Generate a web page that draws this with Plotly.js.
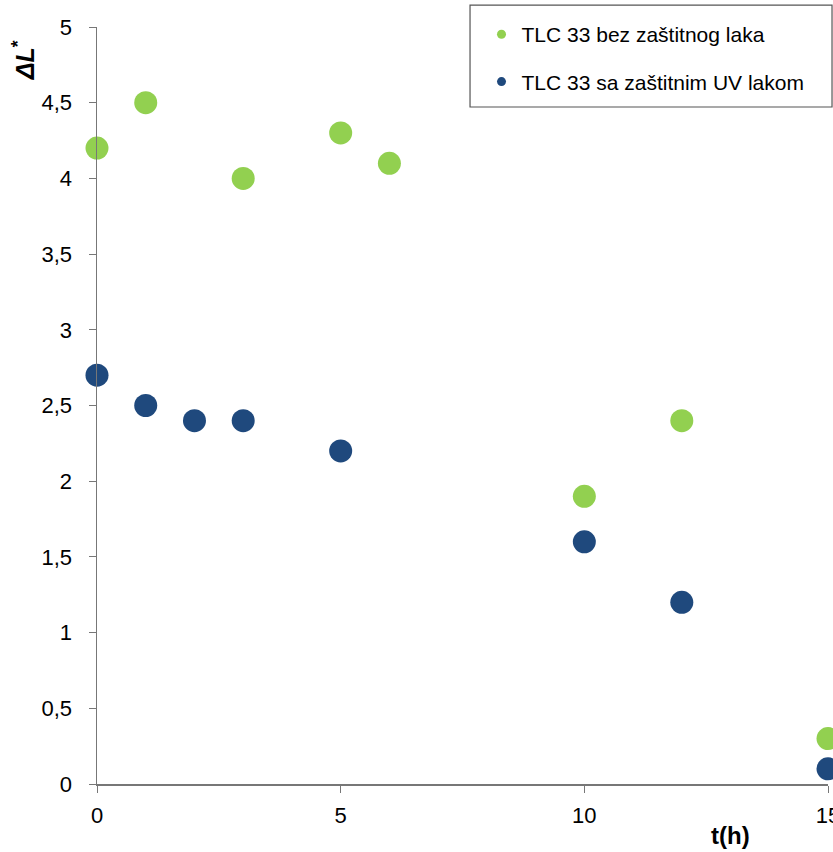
<!DOCTYPE html>
<html>
<head>
<meta charset="utf-8">
<script src="https://cdn.plot.ly/plotly-3.0.1.min.js"></script>
<style>html,body{margin:0;padding:0;background:#fff;}#chart{width:833px;height:852px;}</style>
</head>
<body>
<div id="chart"></div>
<script>
const greenX = [0, 1, 3, 5, 6, 10, 12, 15];
const greenY = [4.2, 4.5, 4.0, 4.3, 4.1, 1.9, 2.4, 0.3];
const blueX = [0, 1, 2, 3, 5, 10, 12, 15];
const blueY = [2.7, 2.5, 2.4, 2.4, 2.2, 1.6, 1.2, 0.1];
const seriesNames = ["TLC 33 bez zaštitnog laka", "TLC 33 sa zaštitnim UV lakom"];
const yTickVals = [0, 0.5, 1, 1.5, 2, 2.5, 3, 3.5, 4, 4.5, 5];
const yTickText = ["0", "0,5", "1", "1,5", "2", "2,5", "3", "3,5", "4", "4,5", "5"];
const xTickVals = [0, 5, 10, 15];
const xTickText = ["0", "5", "10", "15"];

const GREEN = "#92D050";
const BLUE = "#1F497D";
const FONT = "Liberation Sans, Arial, sans-serif";

const traces = [
  {x: greenX, y: greenY, type: "scatter", mode: "markers", showlegend: false, cliponaxis: false,
   marker: {color: GREEN, size: 23}},
  {x: blueX, y: blueY, type: "scatter", mode: "markers", showlegend: false, cliponaxis: false,
   marker: {color: BLUE, size: 23}},
  {x: [null], y: [null], type: "scatter", mode: "markers", name: seriesNames[0], legendgroup: "a",
   marker: {color: GREEN, size: 9}},
  {x: [null], y: [null], type: "scatter", mode: "markers", name: seriesNames[1], legendgroup: "b",
   marker: {color: BLUE, size: 9}}
];

const layout = {
  width: 833, height: 852,
  margin: {l: 97, r: 5, t: 27, b: 68},
  paper_bgcolor: "#fff", plot_bgcolor: "#fff",
  font: {family: FONT, size: 21, color: "#000"},
  showlegend: true,
  legend: {x: 0.526, y: 1.017, xanchor: "left", yanchor: "top", bgcolor: "rgba(0,0,0,0)",
           borderwidth: 0, font: {family: FONT, size: 21, color: "#000"},
           traceorder: "grouped", tracegroupgap: 17},
  xaxis: {range: [0, 15], tickvals: xTickVals, ticktext: xTickText, showgrid: false, zeroline: false,
          showline: true, linecolor: "#777", linewidth: 1.5, ticks: "outside", ticklen: 7, tickcolor: "#777",
          tickfont: {size: 22}, ticklabelstandoff: 4, ticklabeloverflow: "allow", fixedrange: true},
  yaxis: {range: [0, 5], tickvals: yTickVals, ticktext: yTickText, showgrid: false, zeroline: false,
          showline: true, linecolor: "#777", linewidth: 1.5, ticks: "outside", ticklen: 7, tickcolor: "#777",
          tickfont: {size: 22}, ticklabelstandoff: 12, fixedrange: true},
  shapes: [
    {type: "rect", xref: "paper", yref: "paper", x0: 0.5103, x1: 1.0055, y0: 0.8943, y1: 1.029,
     line: {color: "#555", width: 1.2}, fillcolor: "rgba(0,0,0,0)"}
  ],
  annotations: [
    {xref: "paper", yref: "paper", x: -0.1, y: 0.956, text: "<b><i>ΔL</i></b><b><sup>*</sup></b>",
     showarrow: false, textangle: -90, font: {family: FONT, size: 25, color: "#000"}, xanchor: "center", yanchor: "middle"},
    {xref: "paper", yref: "paper", x: 0.867, y: -0.0674, text: "<b>t(h)</b>",
     showarrow: false, font: {family: FONT, size: 24, color: "#000"}, xanchor: "center", yanchor: "middle"}
  ]
};

Plotly.newPlot("chart", traces, layout, {displayModeBar: false, staticPlot: true});
</script>
</body>
</html>
